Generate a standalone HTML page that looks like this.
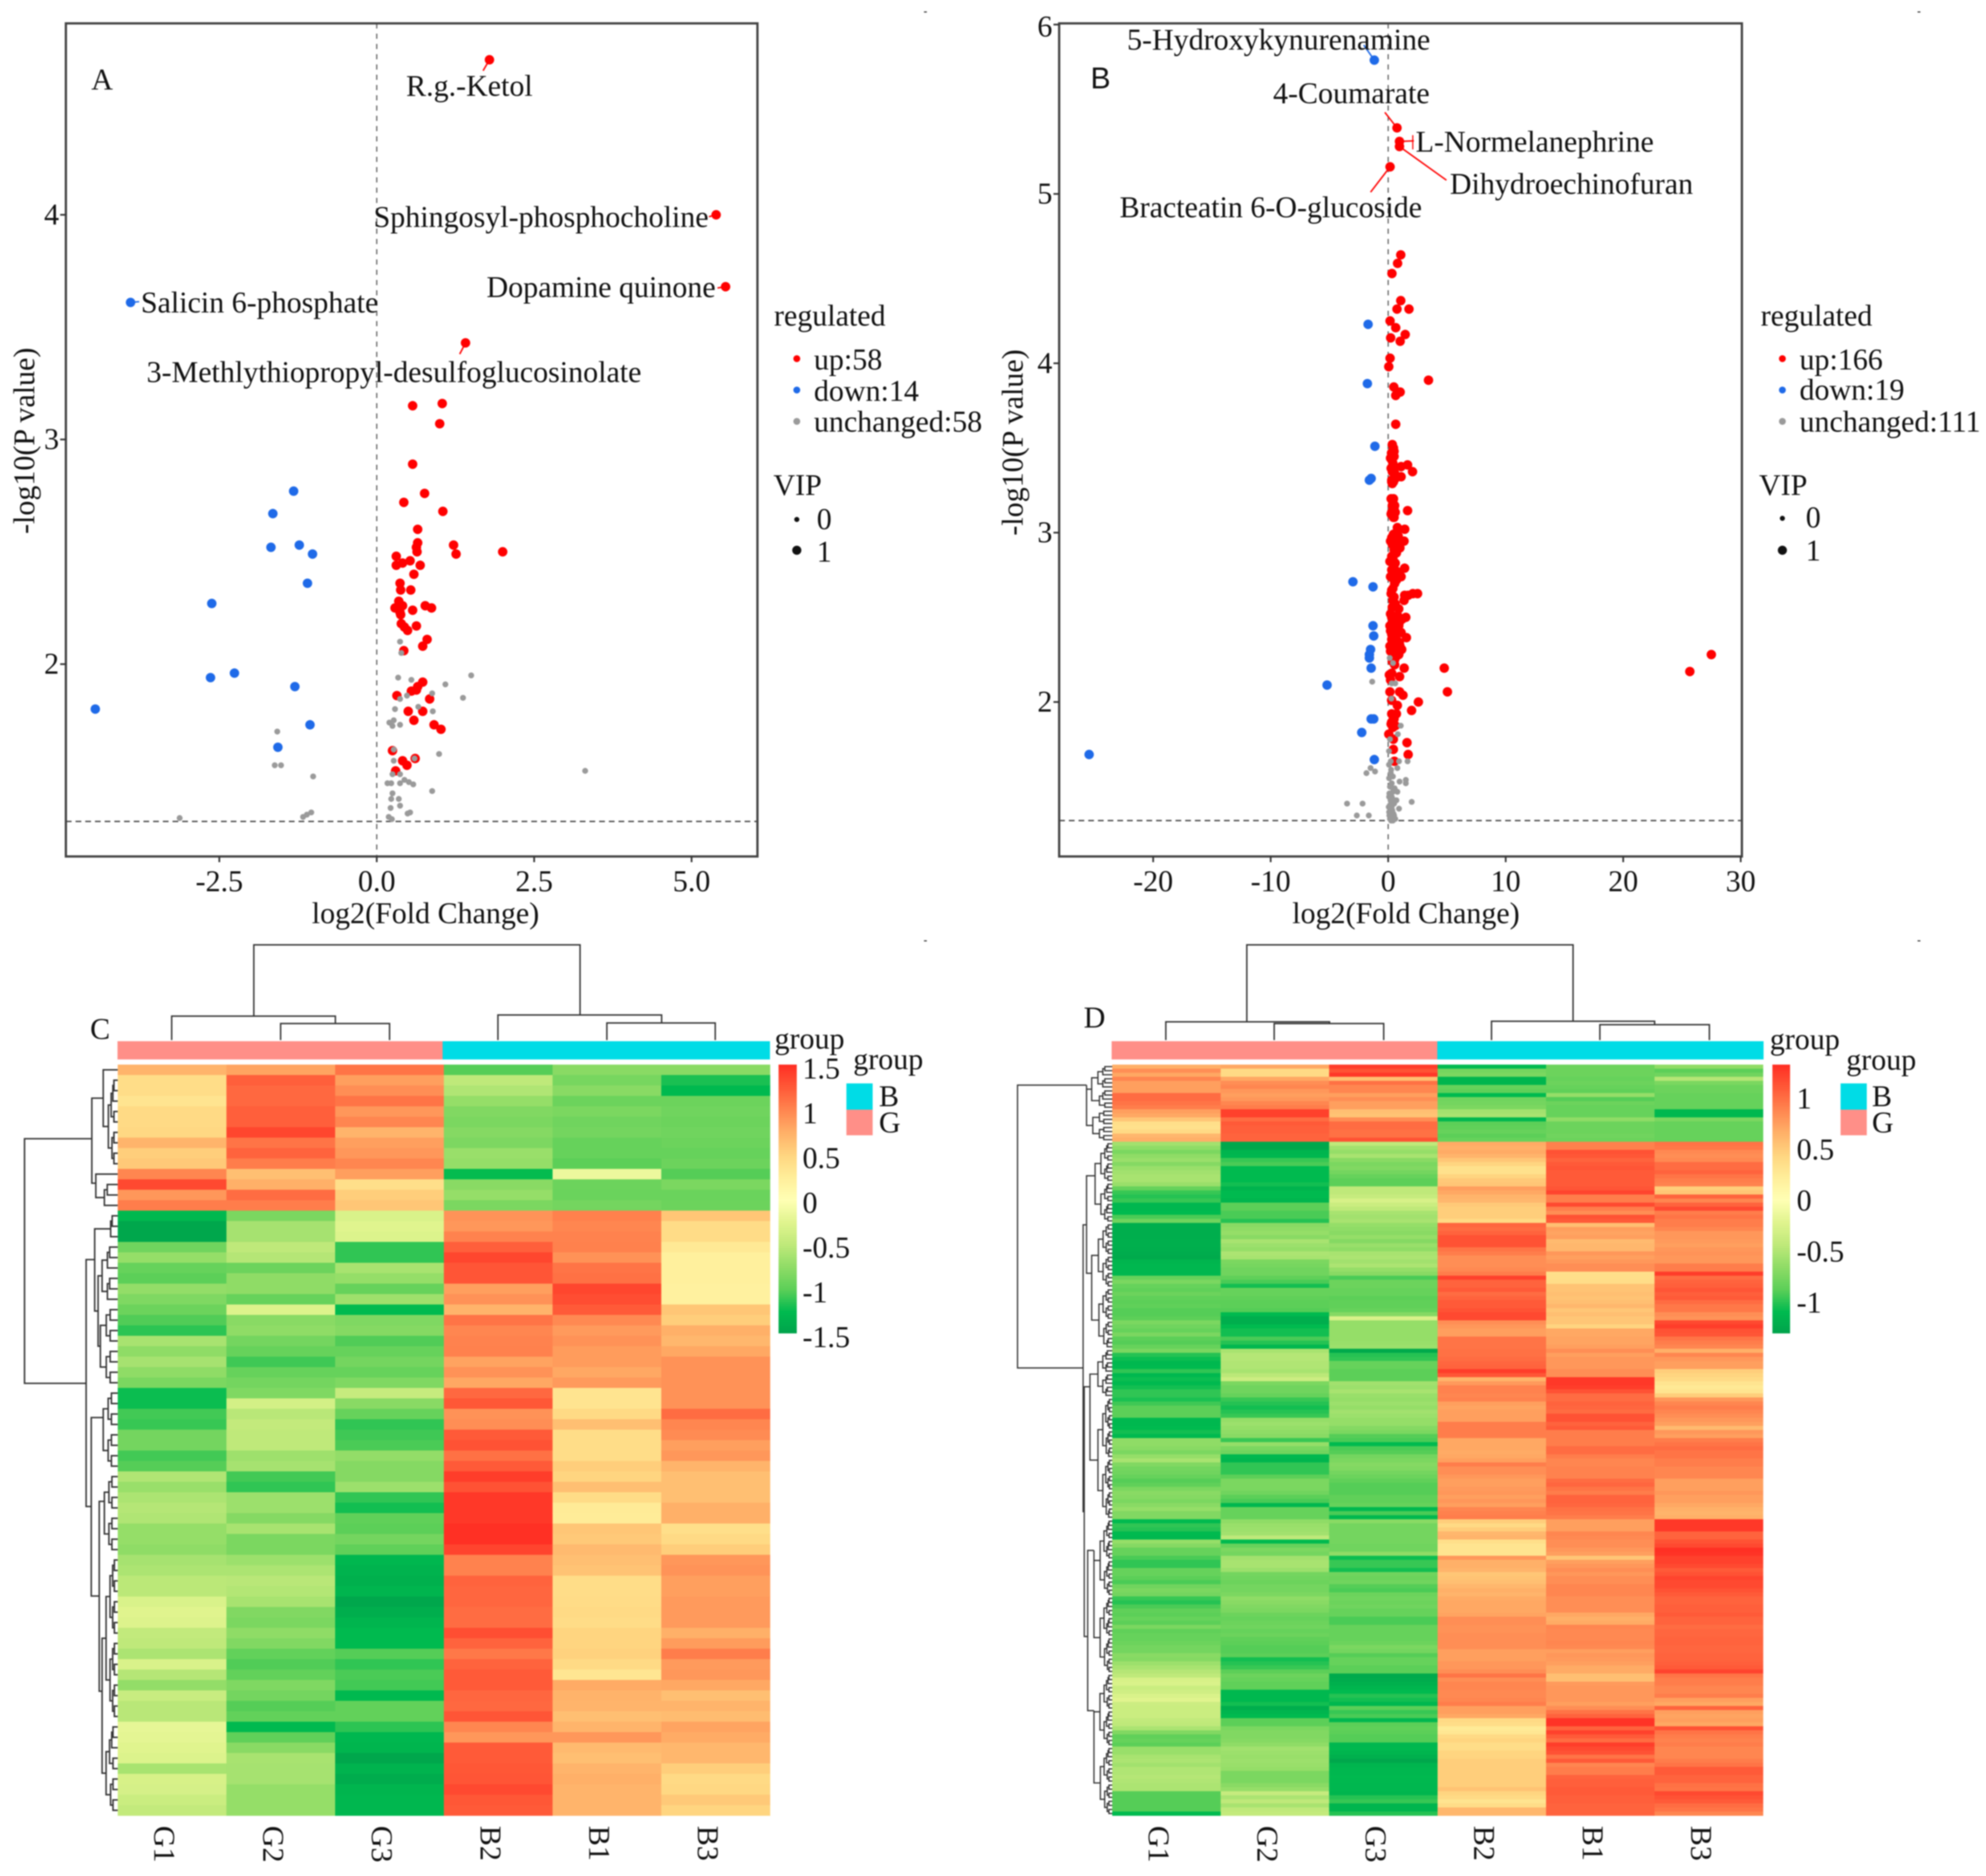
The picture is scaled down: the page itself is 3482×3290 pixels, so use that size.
<!DOCTYPE html>
<html lang="en">
<head>
<meta charset="utf-8">
<title>Volcano plots and heatmaps</title>
<style>
html,body{margin:0;padding:0;background:#fff;}
#figure{display:block;width:3482px;height:3290px;filter:blur(1.1px);font-family:"Liberation Serif",serif;font-size:52.6px;fill:#111;}
</style>
</head>
<body>
<svg id="figure" xmlns="http://www.w3.org/2000/svg" width="3482" height="3290" viewBox="0 0 3482 3290">
<rect width="3482" height="3290" fill="#fff"/>
<g fill="#333">
<rect x="1620" y="20" width="5" height="2"/><rect x="3362" y="20" width="5" height="2"/><rect x="1620" y="1649" width="5" height="2"/><rect x="3362" y="1649" width="5" height="2"/>
</g>
<text x="160" y="157">A</text>
<text x="1912" y="155" style="font-family:'Liberation Sans',sans-serif">B</text>
<text x="158" y="1822">C</text>
<text x="1900" y="1802">D</text>
<text x="746" y="1619" text-anchor="middle">log2(Fold Change)</text>
<text x="2465" y="1619" text-anchor="middle">log2(Fold Change)</text>
<text transform="translate(60 773) rotate(-90)" text-anchor="middle">-log10(P value)</text>
<text transform="translate(1793 776) rotate(-90)" text-anchor="middle">-log10(P value)</text>
<g>
<text x="1357" y="571">regulated</text>
<circle cx="1397" cy="629" r="6" fill="#f00"/>
<text x="1427" y="648">up:58</text>
<circle cx="1397" cy="684" r="6" fill="#1f6ae8"/>
<text x="1427" y="703">down:14</text>
<circle cx="1397" cy="739" r="6" fill="#9a9a9a"/>
<text x="1427" y="757">unchanged:58</text>
<text x="1356" y="868">VIP</text>
<circle cx="1397" cy="911" r="4.5" fill="#111"/>
<text x="1432" y="928">0</text>
<circle cx="1397" cy="965" r="8" fill="#111"/>
<text x="1432" y="985">1</text>
</g>
<g>
<text x="3087" y="571">regulated</text>
<circle cx="3125" cy="629" r="6" fill="#f00"/>
<text x="3155" y="648">up:166</text>
<circle cx="3125" cy="684" r="6" fill="#1f6ae8"/>
<text x="3155" y="701">down:19</text>
<circle cx="3125" cy="739" r="6" fill="#9a9a9a"/>
<text x="3155" y="757">unchanged:111</text>
<text x="3084" y="868">VIP</text>
<circle cx="3125" cy="909" r="4.5" fill="#111"/>
<text x="3166" y="925">0</text>
<circle cx="3125" cy="965" r="8" fill="#111"/>
<text x="3166" y="983">1</text>
</g>
<path fill="none" stroke="#333" stroke-width="2.5" d="M445 1782V1657H1017V1780M301 1824V1782H588V1795M492 1824V1795H683V1824M873 1824V1780H1160V1794M1064 1824V1794H1254V1824"/>
<path fill="none" stroke="#333" stroke-width="2.5" d="M2186 1792V1657H2758V1791M2044 1824V1792H2331V1795M2234 1824V1795H2426V1824M2615 1824V1791H2901V1797M2805 1824V1797H2997V1824"/>
<g>
<rect x="206" y="1826" width="570" height="32" fill="#ff8f88"/>
<rect x="776" y="1826" width="574" height="32" fill="#00dce6"/>
</g>
<g>
<rect x="1949" y="1826" width="571" height="32" fill="#ff8f88"/>
<rect x="2520" y="1826" width="572" height="32" fill="#00dce6"/>
</g>
<text x="1358" y="1839">group</text>
<text x="3103" y="1840">group</text>
<g>
<text x="1496" y="1875">group</text>
<rect x="1484" y="1900" width="46" height="46" fill="#00dce6"/>
<rect x="1484" y="1946" width="46" height="45" fill="#ff8f88"/>
<text x="1541" y="1940">B</text>
<text x="1541" y="1986">G</text>
</g>
<g>
<text x="3237" y="1876">group</text>
<rect x="3227" y="1900" width="46" height="46" fill="#00dce6"/>
<rect x="3227" y="1946" width="46" height="45" fill="#ff8f88"/>
<text x="3282" y="1940">B</text>
<text x="3282" y="1986">G</text>
</g>
</svg>
<script>
// ---------- Panel A data (log2 fold change, -log10 p) ----------
const upA=[[1.79,4.69],[5.39,4.0],[5.54,3.68],[1.41,3.43],[.57,3.15],[1.04,3.16],[1,3.07],[.57,2.89],[.76,2.76],[.43,2.72],[1.05,2.68],[.65,2.6],[.65,2.54],[.64,2.5],[1.22,2.53],[1.26,2.49],[2,2.5],[.31,2.48],[.31,2.44],[.41,2.45],[.53,2.46],[.69,2.44],[.59,2.4],[.37,2.36],[.38,2.33],[.54,2.33],[.29,2.25],[.41,2.26],[.38,2.22],[.57,2.24],[.77,2.26],[.87,2.25],[.39,2.18],[.49,2.15],[.63,2.17],[.8,2.11],[.73,2.08],[.43,2.06],[.73,1.92],[.65,1.9],[.63,1.885],[.55,1.88],[.32,1.86],[.84,1.845],[.5,1.79],[.73,1.79],[.59,1.75],[.91,1.73],[1.02,1.71],[.25,1.615],[.61,1.58],[.41,1.57],[.48,1.55],[.3,1.525],[.37,2.23],[.44,2.165],[.35,2.28],[.63,2.52]];
const downA=[[-3.91,3.61],[-1.32,2.77],[-1.65,2.67],[-1.68,2.52],[-1.23,2.53],[-1.02,2.49],[-1.1,2.36],[-2.62,2.27],[-2.26,1.96],[-2.64,1.94],[-1.3,1.9],[-4.47,1.8],[-1.06,1.73],[-1.57,1.63]];
const unchangedA=[[.37,2.1],[.39,2.05],[.34,1.94],[.55,1.93],[1.09,1.91],[1.5,1.95],[1.37,1.85],[.88,1.87],[.48,1.86],[.37,1.845],[.66,1.81],[.89,1.79],[.29,1.8],[.2,1.74],[.27,1.75],[.25,1.725],[.37,1.73],[-1.58,1.7],[-1.62,1.55],[-1.52,1.55],[.99,1.6],[.27,1.62],[.27,1.57],[.6,1.58],[3.31,1.525],[.25,1.51],[.37,1.51],[-1.01,1.5],[.44,1.485],[.17,1.47],[.23,1.47],[.37,1.47],[.51,1.475],[.58,1.465],[.88,1.435],[.25,1.425],[.35,1.4],[.23,1.4],[.37,1.37],[.22,1.36],[.53,1.34],[.49,1.335],[-1.04,1.34],[-1.11,1.33],[-1.17,1.32],[-3.13,1.315],[.19,1.32],[.24,1.31]];
const xTickValuesA=[-2.5,0,2.5,5];
const xTickLabelsA=['-2.5','0.0','2.5','5.0'];
const yTickValuesA=[2,3,4];
const yTickLabelsA=['2','3','4'];

// ---------- Panel B data ----------
const upB=[[.75,5.39],[.96,5.31],[.96,5.28],[.16,5.16],[1.07,4.64],[.8,4.59],[.32,4.53],[1.07,4.37],[.75,4.32],[1.77,4.32],[.16,4.25],[.64,4.21],[1.45,4.17],[.21,4.15],[1.02,4.13],[.16,4.03],[.05,3.98],[3.43,3.9],[.48,3.86],[1.02,3.83],[.64,3.81],[.64,3.64],
[.35,3.52],[.45,3.5],[.28,3.47],[.5,3.45],[.3,3.43],[.4,3.41],[1.65,3.4],[1.1,3.39],[.25,3.38],[2.07,3.36],[.35,3.36],[.55,3.35],[1.1,3.33],[.3,3.31],[.45,3.3],[.35,3.29],[.3,3.3],[.45,3.2],[.4,3.18],[.35,3.16],[.5,3.14],[1.65,3.13],[.4,3.1],[.5,3.09],[.45,3.09],[.55,2.99],[1.41,3.02],[.7,3],[.45,2.99],[.3,2.97],[.6,2.96],[1.35,2.95],[.35,2.93],[1,2.91],[.5,2.9],[.7,2.88],[.3,2.86],[.4,2.85],[.15,2.83],[.6,2.82],[1.4,2.79],[.3,2.78],[.9,2.75],[.4,2.73],[.55,2.7],[.4,2.67],[.3,2.66],[2.5,2.64],[2.1,2.64],[1.7,2.63],[1.4,2.63],[.4,2.6],[1.35,2.6],[.6,2.58],[.35,2.56],[.2,2.52],[.8,2.51],[1.5,2.5],[1.2,2.49],[.4,2.48],[.3,2.46],[.9,2.45],[.65,2.44],[.2,2.42],[1.1,2.41],[.5,2.4],[1.55,2.38],[.3,2.37],[.8,2.36],[.3,2.34],[1,2.33],[.6,2.32],[.2,2.3],[.4,2.29],[.7,2.27],
[4.77,2.2],[5.04,2.06],[25.67,2.18],[27.5,2.28],[1.36,2.2],[.97,2.15],[.3,2.17],[.15,2.06],[.97,2.06],[1.26,2.04],[.29,2.01],[.78,1.98],[2.57,2],[1.99,1.95],[.44,1.91],[.3,1.93],[.7,1.93],[.29,1.88],[.5,1.9],[.6,1.86],[.25,1.87],[.05,1.81],[.4,1.85],[1.6,1.76],[.44,1.78],[.44,1.72],[1.7,1.69],[.53,1.65],[.35,2.24],[.55,2.22],[.2,2.13],[.1,2.16],
[.5,3.48],[.2,3.44],[.45,3.38],[.6,3.32],[.25,3.2],[.55,3.16],[.3,3.12],[.6,3.12],[.25,3.11],[.4,2.98],[.85,2.98],[.2,2.95],[.75,2.93],[.45,2.87],[.5,2.79],[.75,2.77],[.2,2.74],[.7,2.72],[.25,2.64],[.5,2.62],[.9,2.55],[.3,2.5],[.6,2.5],[.95,2.47],[.15,2.45],[.45,2.43],[.8,2.41],[.3,2.4],[.6,2.38],[.95,2.35],[.15,2.33],[.45,2.3],[.55,2.25],[.9,2.28],[1.15,2.31],[.78,3.03],[1.1,2.74]];
const downB=[[-1.18,5.79],[-1.71,4.23],[-1.77,3.88],[-1.13,3.51],[-1.45,3.32],[-1.6,3.31],[-3,2.71],[-1.29,2.68],[-1.29,2.45],[-1.23,2.39],[-1.5,2.31],[-1.6,2.28],[-1.6,2.26],[-1.45,2.2],[-5.2,2.1],[-1.45,1.9],[-1.23,1.9],[-2.25,1.82],[-1.18,1.66],[-25.45,1.69]];
const unchangedB=[[.13,2.26],[.41,2.23],[-1.36,2.12],[.3,2.11],[.6,2.11],[.27,2.02],[1.07,1.86],[.82,1.81],[.15,1.78],[.07,1.71],[.92,1.65],[1.65,1.65],[.22,1.65],[.07,1.63],[.78,1.61],[-1.5,1.61],[-1.12,1.59],[-1.85,1.58],[.22,1.58],[.08,1.55],[.97,1.53],[1.5,1.54],[1.5,1.52],[.2,1.5],[.55,1.49],[.78,1.47],[.2,1.45],[.08,1.44],[.35,1.43],[.7,1.42],[.45,1.41],[.15,1.39],[-3.5,1.4],[-2.18,1.4],[2,1.41],[.92,1.37],[.3,1.38],[.08,1.35],[.45,1.34],[.22,1.31],[.6,1.31],[-2.67,1.33],[-1.65,1.33],[.25,1.3],[.25,1.6],[.4,1.56],[.3,1.52],[.15,1.5],[.4,1.47],[.1,1.46],[.3,1.44],[.5,1.4],[.2,1.42],[.35,1.36],[.1,1.33],[.5,1.33],[.3,1.34],[.25,1.41],[.05,1.38],[.4,1.3],[.15,1.31]];
const xTickValuesB=[-20,-10,0,10,20,30];
const xTickLabelsB=['-20','-10','0','10','20','30'];
const yTickValuesB=[2,3,4,5,6];
const yTickLabelsB=['2','3','4','5','6'];

// ---------- Heatmap data ----------
const columnLabels=['G1','G2','G3','B2','B1','B3'];
const heatCRows=[
[.72,.82,1.1,-1.02,-.78,-.78],[.42,1.22,.85,-.5,-.87,-1.18],[.42,1.17,.95,-.58,-.78,-1.26],[.35,1.17,1.1,-.72,-.92,-.92],[.45,1.22,.9,-.82,-.85,-.9],[.45,1.22,1,-.85,-.9,-.92],[.47,1.37,.72,-.8,-.88,-.9],[.72,1.1,.85,-.84,-.95,-.92],[.55,1.2,.9,-.7,-.95,-.95],[.58,1.05,1,-.72,-1,-.92],
[1,.65,.85,-1.24,-.15,-1.02],[1.35,.75,.4,-.78,-.92,-.85],[.9,1.15,.55,-.72,-.93,-.93],[1.05,1.05,.6,-.85,-.88,-.92],[-1.27,-.85,-.3,.92,1.03,.6],[-1.45,-.63,-.25,.9,1,.43],[-1.45,-.63,-.28,1.02,1.02,.43],[-.9,-.5,-1.12,1.22,1.03,.3],[-.72,-.55,-1.12,1.37,.93,.22],[-.95,-.92,-.62,1.28,1.1,.22],
[-1,-.75,-.72,1.28,1.12,.22],[-.73,-.75,-.95,.85,1.37,.2],[-.83,-.95,-.67,.93,1.33,.2],[-.92,-.27,-1.25,.72,1.25,.6],[-1.03,-.78,-.83,1.1,.98,.55],[-1.13,-.75,-.8,1,.88,.75],[-.62,-.88,-1.03,1.02,.93,.7],[-.75,-.95,-.95,1.03,.87,.8],[-.63,-1.08,-.88,.83,.87,.93],[-.75,-.95,-.95,.93,.8,.93],
[-.85,-.88,-.83,.8,.88,.93],[-1.22,-.83,-.45,1.17,.35,.93],[-1.22,-.35,-.78,1.27,.35,.93],[-1.07,-.53,-.95,.93,.45,1.15],[-1.1,-.47,-1.12,.95,.65,1],[-.88,-.5,-1.08,1.25,.42,.97],[-.88,-.5,-1.05,1.3,.42,.85],[-1.07,-.67,-.73,1.12,.42,.9],[-1.02,-.63,-.8,1.25,.55,.72],[-.58,-1.07,-.8,1.42,.5,.65],
[-.7,-1.12,-.68,1.3,.65,.65],[-.6,-.68,-1.12,1.45,.43,.65],[-.55,-.68,-1.2,1.45,.28,.75],[-.58,-.8,-.98,1.45,.27,.75],[-.72,-.62,-1,1.5,.6,.4],[-.72,-.85,-.88,1.5,.58,.45],[-.75,-.85,-.98,1.38,.68,.55],[-.63,-.68,-1.28,1.02,.65,.9],[-.6,-.6,-1.32,1.02,.62,.92],[-.52,-.53,-1.35,1.2,.42,.85],
[-.52,-.56,-1.3,1.18,.42,.85],[-.3,-.62,-1.45,1.18,.43,.88],[-.25,-.82,-1.38,1.15,.45,.88],[-.27,-.85,-1.3,1.15,.43,.88],[-.48,-.75,-1.25,1.32,.5,.75],[-.5,-.82,-1.25,1.2,.5,.87],[-.6,-.97,-1.02,1.08,.52,1.05],[-.3,-1.03,-1.12,1.2,.45,.88],[-.55,-.97,-1.05,1.25,.33,.9],[-.73,-.83,-1.07,1.25,.78,.8],
[-.43,-.88,-1.26,1.18,.73,.65],[-.53,-1.02,-.97,1.17,.72,.72],[-.53,-.97,-.97,1.28,.65,.67],[-.2,-1.26,-1.13,1,.72,.82],[-.22,-.98,-1.28,.9,.9,.78],[-.25,-.78,-1.3,1.25,.68,.7],[-.28,-.62,-1.45,1.25,.65,.7],[-.62,-.63,-1.32,1.27,.72,.55],[-.32,-.63,-1.4,1.28,.75,.45],[-.33,-.72,-1.3,1.35,.72,.47],
[-.42,-.72,-1.28,1.27,.72,.58],[-.47,-.72,-1.28,1.25,.72,.5]];

const heatDG1=[.75,.95,.8,1,.85,.85,.85,1.15,1.15,1.1,
1.05,.85,.8,.6,.4,.38,.45,.7,.75,-.65,
-.75,-.85,-.75,-.7,-.8,-.7,-.65,-.62,-.62,-.7,
-.95,-1.1,-1.15,-1.1,-1.28,-1.28,-1.25,-1.05,-.9,-1.38,
-1.38,-1.38,-1.38,-1.36,-1.36,-1.38,-1.4,-1.42,-1.3,-1.28,
-1.28,-1.28,-.95,-.85,-.95,-.98,-.92,-.98,-1,-.98,
-1.02,-1.02,-1,-.85,-.9,-.95,-.85,-1,-1.02,-.95,
-.85,-1.15,-1.22,-1.27,-1.25,-1.12,-1.27,-1.22,-1.26,-1.2,
-1.12,-1.12,-1.18,-1.08,-1,-1,-1,-1.27,-1.27,-1.25,
-1.2,-1.26,-.75,-.75,-.78,-.85,-.72,-.62,-.82,-.88,
-.9,-.95,-1.02,-.98,-.85,-.78,-.8,-.85,-.78,-.72,
-.82,-.82,-1.25,-1.12,-1.15,-1.25,-1.27,-.72,-.8,-.95,
-.95,-1.05,-1.12,-1.12,-.95,-.95,-1,-1.05,-.9,-.85,
-.88,-1.1,-1.15,-1.05,-.98,-1,-.95,-1,-.85,-.98,
-.95,-.95,-.92,-.88,-.88,-.78,-.8,-.68,-.62,-.55,
-.5,-.32,-.3,-.42,-.38,-.3,-.25,-.4,-.42,-.42,
-.42,-.48,-.5,-.6,-.82,-.98,-.95,-1,-.7,-.7,
-.62,-.6,-.65,-.58,-.58,-.55,-.58,-.6,-.6,-1.02,
-1.02,-1.02,-1.02,-1.02,-1.25];
const heatDG2=[.8,.45,.45,.8,.95,1,.9,.85,.9,1,
1.05,1.4,1.4,1.15,1.25,1.22,1.22,1.2,1.2,-1.45,
-1.45,-1.3,-1.28,-1.1,-1.05,-1.25,-1.25,-1.25,-1.25,-1.2,
-1.32,-1.25,-1.25,-1.3,-1,-1,-1.05,-1.05,-1.15,-.78,
-.75,-.72,-.78,-.62,-.68,-.72,-.6,-.62,-.85,-.87,
-.9,-.9,-.98,-1.05,-1.2,-.95,-.95,-.98,-1,-1,
-1.02,-1.25,-1.38,-1.38,-1.25,-1.2,-1.2,-1.05,-1.15,-1.28,
-.62,-.55,-.55,-.58,-.58,-.62,-.52,-.4,-.85,-.9,
-.9,-.95,-1.1,-1.15,-1.2,-1.15,-1.1,-.72,-.68,-.72,
-.75,-.78,-1.1,-.72,-.85,-.9,-1.27,-1.3,-1.12,-1.12,
-1.12,-1,-.85,-.85,-.85,-.9,-1,-1.05,-1.28,-.95,
-.95,-.95,-.75,-.7,-.68,-.65,-.5,-1.25,-.95,-.85,
-.88,-.65,-.62,-.62,-.68,-.88,-.9,-.92,-.88,-.88,
-.85,-.75,-.78,-.82,-.85,-.92,-.95,-.92,-.9,-.95,
-.92,-.98,-1,-1.02,-1.02,-1,-1.2,-1.15,-1.1,-1,
-.92,-.95,-.98,-.98,-1.27,-1.27,-1.27,-1.2,-1.38,-1.3,
-1.25,-1,-1,-.85,-.82,-.82,-.8,-.75,-.65,-.68,
-.7,-.68,-.7,-.72,-.85,-.85,-.85,-.78,-.72,-.45,
-.6,-.5,-.62,-.5,-.47];
const heatDG3=[1.42,1.3,1.45,.65,1.12,1,1,.85,.95,.85,
.85,.65,.62,.95,1.15,1.15,1.12,1.12,1.3,-.5,
-.65,-.72,-.62,-.78,-.85,-.82,-.88,-.95,-1,-1,
-.5,-.5,-.45,-.32,-.42,-.5,-.62,-.65,-.62,-.72,
-.75,-.78,-.72,-.8,-.7,-.75,-.62,-.6,-.65,-.6,
-.72,-.78,-1.05,-.92,-.92,-.95,-.95,-1,-.98,-.98,
-.95,-.8,-.3,-.72,-.72,-.72,-.72,-.72,-.7,-.68,
-1.42,-1.15,-1.12,-.95,-.95,-1,-1,-1,-.65,-.68,
-.62,-.7,-.72,-.68,-.72,-.65,-.68,-.72,-.72,-.8,
-.85,-1.02,-1.05,-1.25,-1.05,-1.02,-.88,-.85,-.8,-.82,
-.88,-.92,-.98,-1.02,-1.02,-1.02,-.98,-.98,-.95,-1.27,
-1.05,-1.27,-.78,-.88,-.88,-.88,-.88,-.88,-.9,-.9,
-.75,-1.22,-1.1,-1.1,-1.2,-.9,-.92,-.9,-1.02,-1.05,
-.92,-.9,-.92,-.9,-.95,-.95,-1.05,-1.05,-.95,-.95,
-.95,-.95,-.92,-.85,-.88,-1.02,-.95,-.95,-1,-1,
-1.42,-1.4,-1.35,-1.3,-1.25,-1.15,-1.2,-1.28,-1,-1.1,
-1.05,-1.28,-1,-.98,-1,-1.02,-1.02,-1.28,-1.27,-1.3,
-1.35,-1.45,-1.3,-1.28,-1.28,-1.26,-1.27,-1.28,-1.28,-1.3,
-1.15,-1.1,-1.3,-1.3,-1.15];
const heatDB2=[-1.25,-.88,-.85,-1.3,-1.3,-.95,-.98,-1.25,-.9,-.88,
-.85,-.65,-.62,-1.28,-1,-.98,-.95,-1,-.95,.78,
.75,.78,.72,.6,.5,.38,.38,.5,.58,.6,
.85,.8,.72,.7,.58,.55,.55,.55,.45,1.18,
1.15,1.2,1.3,1.3,1.3,1.1,1.05,.95,.95,.95,
.98,1.05,1.4,1.2,1.2,1.25,1.15,1.2,1.25,1.25,
1.3,1.35,1.35,.95,.9,.85,.85,1.1,1.1,1.1,
1.12,1.12,1.15,1.18,1.2,1.42,1.28,.72,.88,1.02,
1.02,1,1.02,.85,.82,.85,.85,.85,1.05,1.05,
1.05,1.05,.8,.8,.8,.78,.8,.85,1.05,.95,
.95,.9,.85,.85,.88,.9,.85,.9,.85,1,
1.03,1.05,.55,.45,.55,.7,.72,.4,.35,.35,
.35,.9,.75,.75,.72,.6,.62,.65,.7,.75,
.72,.78,.8,.8,.8,.82,.95,.95,.93,.93,
.95,.95,.95,.95,.85,.85,.85,.9,.9,.95,
1.1,.95,1,1,.98,.98,1,1.05,.85,.85,
.8,.45,.42,.28,.32,.45,.5,.42,.42,.5,
.5,.55,.55,.55,.55,.55,.55,.55,.62,.5,
.45,.35,.42,.7,.7];
const heatDB1=[-.92,-.92,-.92,-.95,-.92,-.95,-.98,-.72,-1.02,-.92,
-.95,-.95,-.95,-.75,-.92,-.92,-.92,-.9,-.92,1.03,
1.03,1.3,1.27,1.2,1.25,1.28,1.25,1.25,1.25,1.25,
1.28,1.38,1.05,1.05,1.35,1.05,.95,1.3,1.25,.65,
.85,.82,.85,.68,.7,.7,.9,.85,.9,.95,
.95,.4,.4,.42,.62,.62,.65,.62,.65,.7,
.6,.65,.6,.6,.5,.8,.8,.82,.82,.85,
.95,.85,.9,.9,.9,.95,.95,1.45,1.45,1.42,
1.3,1.15,1.15,1.2,1.18,1.15,1.3,1.3,1.2,1.25,
1.05,1.05,1.05,1.05,1.15,1.15,1.05,1,1,1.02,
1.02,1.02,1.15,1.18,1.1,1.05,1.2,1.2,1.18,1.12,
1.1,1.05,.85,.85,.85,1,.98,.95,.95,.9,
.85,.6,.85,.9,.95,.9,.95,.95,1,1,
1,.95,.95,.95,.95,.8,.75,.78,1,.98,
.98,.98,1,.98,.85,.9,.88,.85,.78,.78,
.65,.65,.88,.9,.9,.9,.9,.85,.95,1.1,
1.2,1.48,1.48,1.2,1.4,1.25,1.15,1.42,1.35,1.3,
1.1,1.25,1,1.05,1.05,1.2,1.22,1.22,1.25,1.25,
1.22,1.22,1.2,1.2,1.2];
const heatDB3=[-.75,-1,-.9,-.55,-.85,-.92,-.92,-.95,-.95,-.95,
-.95,-1.27,-1.27,-.85,-.95,-.95,-.95,-.95,-.95,1.1,
1.08,.98,.95,.98,1.15,1.15,1.2,1.1,1.05,1.02,
.55,.6,1.2,1,1.2,1.35,1.05,1.1,1.05,1.05,
1,.9,.9,.88,.85,.9,.92,.9,.9,1.05,
1.05,1.42,1.15,1.2,1.22,1.28,1.22,1.25,1.15,1.08,
1.08,.95,.92,1.35,1.42,1.3,1.28,1.1,1.05,1,
.75,1,.9,.85,.85,.55,.5,.45,.35,.3,
.35,.55,.9,1,1.05,1,.95,.9,.85,.68,
.9,.85,1.05,1.1,1.15,1.1,1.1,1.05,1.05,1,
1,1,.85,.85,.85,.9,.85,.85,.8,.75,
.72,.75,1.45,1.45,1.45,1.2,1.2,1.3,1.35,1.5,
1.48,1.4,1.4,1.35,1.25,1.3,1.38,1.35,1.35,1.3,
1.25,1.2,1.2,1.22,1.22,1.25,1.2,1.2,1.15,1.18,
1.18,1.2,1.2,1.18,1.18,1.2,1.2,1.22,1.25,1.38,
1.1,1.05,1.05,1,1,1.05,.85,.8,1.2,.85,
.82,.85,.8,1.3,1.1,1.05,1.02,1.05,1,1,
1,1.05,1.1,1.25,1.25,1.2,1.2,1.12,1.1,1.35,
1.3,1.25,1.15,1.1,1];

const rampValues=[1.5,1.25,1,.75,.5,.25,0,-.25,-.5,-.75,-1,-1.25,-1.5];
const rampColors=['#ff3024','#ff5a38','#ff8650','#ffb068','#ffd580','#ffee9a','#ffffb4','#e0f48e','#bfe97a','#8fdc66','#5ccf58','#00ba4f','#00a24b'];
const colorbarTicksC=[1.5,1,.5,0,-.5,-1,-1.5];
const colorbarTickLabelsC=['1.5','1','0.5','0','-0.5','-1','-1.5'];
const colorbarTicksD=[1,.5,0,-.5,-1];
const colorbarTickLabelsD=['1','0.5','0','-0.5','-1'];

// ---------- Helpers ----------
const NS='http://www.w3.org/2000/svg';
const root=document.getElementById('figure');
function mk(tag,attrs,parent,text){
  const el=document.createElementNS(NS,tag);
  for(const k in attrs){el.setAttribute(k,attrs[k]);}
  (parent||root).appendChild(el);
  if(text!==undefined){el.textContent=text;}
  return el;
}
function linear(d0,d1,r0,r1){return v=>r0+(v-d0)*(r1-r0)/(d1-d0);}
function hexToRgb(h){return [parseInt(h.slice(1,3),16),parseInt(h.slice(3,5),16),parseInt(h.slice(5,7),16)];}
function rampColor(v){
  const x=Math.max(-1.5,Math.min(1.5,v));
  for(let i=0;i<rampValues.length-1;i++){
    if(x<=rampValues[i]&&x>=rampValues[i+1]){
      const t=(rampValues[i]-x)/(rampValues[i]-rampValues[i+1]);
      const a=hexToRgb(rampColors[i]),b=hexToRgb(rampColors[i+1]);
      return 'rgb('+a.map((c,j)=>Math.round(c+(b[j]-c)*t)).join(',')+')';
    }
  }
  return rampColors[rampColors.length-1];
}

// ---------- Volcano plot ----------
function drawVolcano(cfg){
  const g=mk('g',{});
  
  
  const sx=linear(cfg.xDomain[0],cfg.xDomain[1],cfg.left,cfg.right);
  const sy=linear(cfg.yDomain[0],cfg.yDomain[1],cfg.bottom,cfg.top);
  const vline=mk('line',{x1:sx(0),x2:sx(0),y1:cfg.top,y2:cfg.bottom,stroke:'#666','stroke-width':2.2,'stroke-dasharray':'9 9'},g);
  
  
  const hline=mk('line',{x1:cfg.left,x2:cfg.right,y1:sy(cfg.threshold),y2:sy(cfg.threshold),stroke:'#444','stroke-width':2.4,'stroke-dasharray':'10 7'},g);
  
  
  cfg.up.forEach(p=>{
    const c=mk('circle',{cx:sx(p[0]),cy:sy(p[1]),r:8.3,fill:'#f00'},g);
    
    
  });
  cfg.down.forEach(p=>{
    const c=mk('circle',{cx:sx(p[0]),cy:sy(p[1]),r:8.3,fill:'#1f6ae8'},g);
    
    
  });
  cfg.unchanged.forEach(p=>{
    const c=mk('circle',{cx:sx(p[0]),cy:sy(p[1]),r:5.2,fill:'#9a9a9a'},g);
    
    
  });
  const frame=mk('rect',{x:cfg.left,y:cfg.top,width:cfg.right-cfg.left,height:cfg.bottom-cfg.top,fill:'none',stroke:'#444','stroke-width':4},g);
  
  
  cfg.xTicks.forEach((v,i)=>{
    const t=mk('line',{x1:sx(v),x2:sx(v),y1:cfg.bottom,y2:cfg.bottom+10,stroke:'#333','stroke-width':3},g);
    
    
    const l=mk('text',{x:sx(v),y:1563,'text-anchor':'middle'},g,cfg.xLabels[i]);
    
    
  });
  cfg.yTicks.forEach((v,i)=>{
    const t=mk('line',{x1:cfg.left-10,x2:cfg.left,y1:sy(v),y2:sy(v),stroke:'#333','stroke-width':3},g);
    
    
    const l=mk('text',{x:cfg.left-12,y:Math.max(sy(v)+17,64),'text-anchor':'end'},g,cfg.yLabels[i]);
    
    
  });
  cfg.annotations.forEach(a=>{
    const p=cfg[a.series][a.index];
    const col=a.series==='down'?'#1f6ae8':'#f00';
    const c=mk('line',{x1:sx(p[0]),y1:sy(p[1]),x2:a.ex,y2:a.ey,stroke:col,'stroke-width':2.6},g);
    
    
    const t=mk('text',{x:a.tx,y:a.ty},g,a.text);
    
    
  });
}
drawVolcano({name:'volcano-plot-a',left:115.5,right:1328,top:41,bottom:1502,xDomain:[-4.937,6.046],yDomain:[1.144,4.852],threshold:1.3,
  up:upA,down:downA,unchanged:unchangedA,xTicks:xTickValuesA,xLabels:xTickLabelsA,yTicks:yTickValuesA,yLabels:yTickLabelsA,
  annotations:[
    {text:'R.g.-Ketol',series:'up',index:0,tx:712,ty:168,ex:847,ey:124},
    {text:'Sphingosyl-phosphocholine',series:'up',index:1,tx:655,ty:398,ex:1243,ey:380},
    {text:'Dopamine quinone',series:'up',index:2,tx:853,ty:521,ex:1258,ey:505},
    {text:'3-Methlythiopropyl-desulfoglucosinolate',series:'up',index:3,tx:257,ty:670,ex:806,ey:621},
    {text:'Salicin 6-phosphate',series:'down',index:0,tx:247,ty:548,ex:244,ey:529}
  ]});
drawVolcano({name:'volcano-plot-b',left:1857,right:3054,top:41,bottom:1502,xDomain:[-28.0,30.1],yDomain:[1.088,6.007],threshold:1.3,
  up:upB,down:downB,unchanged:unchangedB,xTicks:xTickValuesB,xLabels:xTickLabelsB,yTicks:yTickValuesB,yLabels:yTickLabelsB,
  annotations:[
    {text:'5-Hydroxykynurenamine',series:'down',index:0,tx:1976,ty:87,ex:2391,ey:79},
    {text:'4-Coumarate',series:'up',index:0,tx:2232,ty:181,ex:2428,ey:197},
    {text:'L-Normelanephrine',series:'up',index:1,tx:2482,ty:266,ex:2479,ey:247},
    {text:'Dihydroechinofuran',series:'up',index:2,tx:2542,ty:340,ex:2536,ey:316},
    {text:'Bracteatin 6-O-glucoside',series:'up',index:3,tx:1963,ty:381,ex:2403,ey:337}
  ]});
const normelTick=mk('line',{x1:2477,x2:2477,y1:237,y2:262,stroke:'#f00','stroke-width':2});



// ---------- Heatmap ----------
function drawHeatmap(cfg){
  const g=mk('g',{});
  
  
  const nRows=cfg.columns[0].length;
  const rowY=linear(0,nRows,cfg.y0,cfg.y1);
  const colX=linear(0,cfg.columns.length,cfg.x0,cfg.x1);
  cfg.columns.forEach((col,c)=>{
    col.forEach((v,r)=>{
      const cell=mk('rect',{x:colX(c),y:rowY(r),width:colX(c+1)-colX(c)+.4,height:rowY(r+1)-rowY(r)+.4,fill:rampColor(v)},g);
      
      
    });
    const cx=(colX(c)+colX(c+1))/2-14-17;
    const lab=mk('text',{transform:'translate('+cx+' '+cfg.labelY+') rotate(90)'},g,columnLabels[c]);
    
    
  });

  // row dendrogram: node.y pins a junction height where the clustering is unbalanced
  let d='';
  const center=r=>rowY(r+.5);
  function bracket(a,b,x){d+='M'+a.x+' '+a.y+'H'+x+'V'+b.y+'H'+b.x;}
  function autoTree(s,e,S,E,xTop){
    if(s===e){return {x:cfg.x0,y:center(s)};}
    const m=Math.floor((s+e)/2);
    const a=autoTree(s,m,S,E,xTop),b=autoTree(m+1,e,S,E,xTop);
    const x=cfg.x0-(cfg.x0-xTop)*Math.pow((e-s+1)/(E-S+1),.6);
    bracket(a,b,x);
    return {x:x,y:(a.y+b.y)/2};
  }
  function tree(node){
    let res;
    if(node.r){
      res=autoTree(node.r[0],node.r[1],node.r[0],node.r[1],node.x);
    }else{
      const a=tree(node.k[0]),b=tree(node.k[1]);
      bracket(a,b,node.x);
      res={x:node.x,y:(a.y+b.y)/2};
    }
    if(node.y){
      if(res.x!==node.y){d+='M'+res.x+' '+res.y+'V'+node.y;}
      res.y=node.y;
    }
    return res;
  }
  tree(cfg.tree);
  const dendro=mk('path',{d:d,fill:'none',stroke:'#333','stroke-width':cfg.treeWidth},g);
  
  

  // colour bar
  const barY=linear(1.5,-1.5,1867,2338);
  for(let i=0;i<120;i++){
    const v=1.5-3*i/120;
    const seg=mk('rect',{x:cfg.barX,y:barY(v),width:cfg.barW,height:471/120+.4,fill:rampColor(v)},g);
    
    
  }
  cfg.ticks.forEach((v,i)=>{
    const l=mk('text',{x:cfg.tickX,y:cfg.tickY0-v*cfg.tickStep+17},g,cfg.tickLabels[i]);
    
    
  });
}
const columnsC=columnLabels.map((_,c)=>heatCRows.map(row=>row[c]));
drawHeatmap({name:'heatmap-c',x0:206.4,x1:1350,y0:1867,y1:3184,labelY:3202,columns:columnsC,treeWidth:2.6,
  barX:1365,barW:32,tickX:1407,tickY0:2110,tickStep:157,ticks:colorbarTicksC,tickLabels:colorbarTickLabelsC,
  tree:{x:43,k:[
    {x:161,y:1997,k:[
      {x:181,k:[{x:206,r:[0,0]},{x:190,r:[1,9]}]},
      {x:168,y:2075,k:[{x:206,r:[10,10]},{x:183,r:[11,13]}]}
    ]},
    {x:151,y:2426,k:[
      {x:166,y:2209,k:[{x:194,r:[14,16]},{x:172,k:[{x:179,r:[17,22]},{x:176,r:[23,30]}]}]},
      {x:160,y:2642,k:[
        {x:181,y:2486,r:[31,38]},
        {x:174,y:2799,k:[{x:183,y:2633,r:[39,46]},{x:179,y:2966,k:[{x:186,r:[47,62]},{x:186,r:[63,71]}]}]}
      ]}
    ]}
  ]}});
drawHeatmap({name:'heatmap-d',x0:1950,x1:3091,y0:1867,y1:3184,labelY:3202,columns:[heatDG1,heatDG2,heatDG3,heatDB2,heatDB1,heatDB3],treeWidth:2.2,
  barX:3107.5,barW:31,tickX:3150,tickY0:2106,tickStep:179,ticks:colorbarTicksD,tickLabels:colorbarTickLabelsD,
  tree:{x:1784,k:[
    {x:1905,y:1903,k:[{x:1914,r:[0,10]},{x:1916,r:[11,18]}]},
    {x:1899,y:2399,k:[
      {x:1905,y:2148,k:[{x:1920,y:2062,r:[19,38]},{x:1914,y:2233,r:[39,69]}]},
      {x:1901,y:2651,k:[
        {x:1911,y:2432,k:[{x:1925,r:[70,81]},{x:1925,r:[82,111]}]},
        {x:1907,y:2870,k:[{x:1918,y:2719,r:[112,149]},{x:1918,y:3000,r:[150,184]}]}
      ]}
    ]}
  ]}});
</script>
</body>
</html>
